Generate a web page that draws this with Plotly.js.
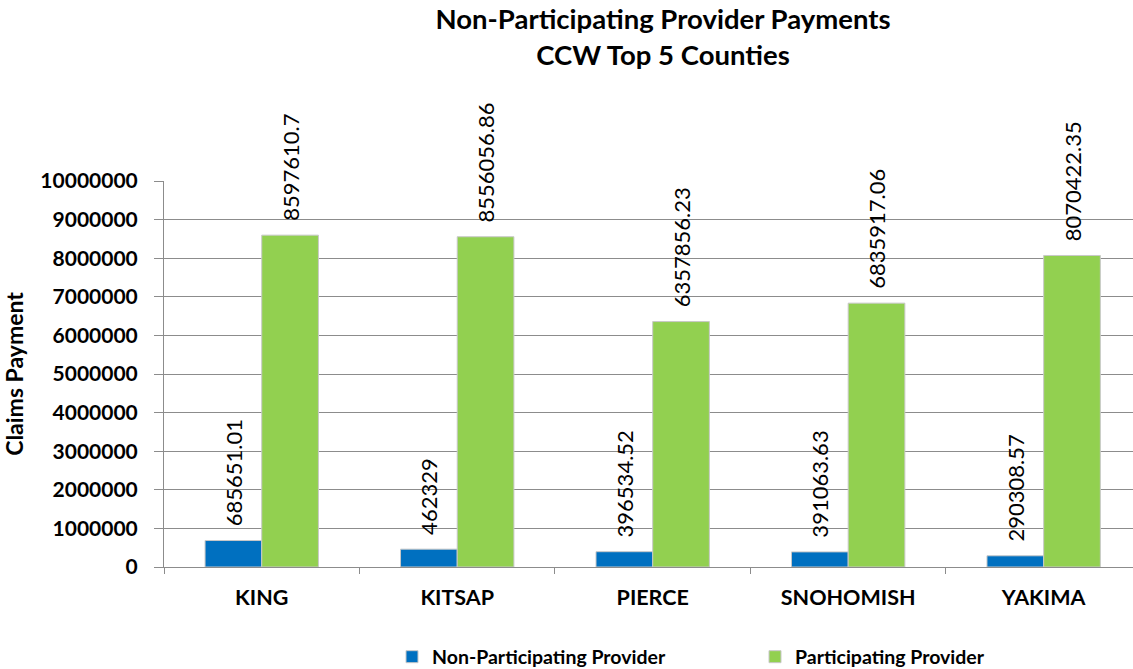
<!DOCTYPE html>
<html>
<head>
<meta charset="utf-8">
<script src="https://cdn.plot.ly/plotly-3.0.1.min.js"></script>
<style>
  html, body { margin: 0; padding: 0; background: #ffffff; }
  #chart { width: 1133px; height: 669px; }
</style>
</head>
<body>
<div id="chart"></div>
<script>
const counties = ["KING", "KITSAP", "PIERCE", "SNOHOMISH", "YAKIMA"];
const nonParticipating = [685651.01, 462329, 396534.52, 391063.63, 290308.57];
const participating = [8597610.7, 8556056.86, 6357856.23, 6835917.06, 8070422.35];
const seriesNames = ["Non-Participating Provider", "Participating Provider"];
const yTickVals = [0, 1000000, 2000000, 3000000, 4000000, 5000000, 6000000, 7000000, 8000000, 9000000, 10000000];

const FONT = "Lato, 'Open Sans', sans-serif";
const labelFont = {family: FONT, size: 22, color: "#000000"};
const PAD = "\u00a0\u00a0";

function barTrace(name, values, color) {
  return {
    type: "bar",
    name: name,
    x: counties,
    y: values,
    text: values.map(v => PAD + String(v)),
    textposition: "outside",
    textangle: -90,
    constraintext: "none",
    cliponaxis: false,
    textfont: labelFont,
    marker: {color: color, line: {color: "#c8c8c8", width: 1}},
    hoverinfo: "x+y"
  };
}

const data = [
  barTrace(seriesNames[0], nonParticipating, "#0070c0"),
  barTrace(seriesNames[1], participating, "#92d050")
];

const layout = {
  width: 1133,
  height: 669,
  paper_bgcolor: "#ffffff",
  plot_bgcolor: "#ffffff",
  margin: {l: 164, r: 0, t: 181, b: 102},
  barmode: "group",
  bargap: 0.42,
  bargroupgap: 0,
  font: {family: FONT, color: "#000000"},
  title: {
    text: "<b>Non-Participating Provider Payments<br>CCW Top 5 Counties</b>",
    font: {family: FONT, size: 27.5, color: "#000000"},
    x: 0.515,
    xref: "paper",
    xanchor: "center",
    y: 1 - 29 / 669,
    yref: "container",
    yanchor: "middle"
  },
  xaxis: {
    type: "category",
    range: [-0.5, 4.457],
    showgrid: false,
    tickson: "boundaries",
    ticks: "outside",
    ticklen: 6,
    tickcolor: "#8c8c8c",
    showline: true,
    linecolor: "#8c8c8c",
    linewidth: 1,
    tickfont: {family: FONT, size: 21.5, color: "#000000", weight: "bold"},
    ticklabelstandoff: 11,
    automargin: false,
    fixedrange: true
  },
  yaxis: {
    range: [0, 10000000],
    tickvals: yTickVals,
    tickformat: "d",
    showgrid: true,
    gridcolor: "#8c8c8c",
    gridwidth: 1,
    zeroline: false,
    showline: true,
    linecolor: "#8c8c8c",
    linewidth: 1,
    ticks: "outside",
    ticklen: 9,
    tickcolor: "#8c8c8c",
    tickfont: {family: FONT, size: 21, color: "#000000", weight: "bold"},
    ticklabelstandoff: 12,
    automargin: false,
    title: {
      text: "<b>Claims Payment</b>",
      font: {family: FONT, size: 23, color: "#000000"},
      standoff: 14
    },
    fixedrange: true
  },
  legend: {
    orientation: "h",
    xref: "container",
    yref: "container",
    x: 392 / 1133,
    xanchor: "left",
    y: 1 - 657 / 669,
    yanchor: "middle",
    entrywidth: 318,
    entrywidthmode: "pixels",
    font: {family: FONT, size: 19.5, color: "#000000", weight: "bold"},
    itemwidth: 30,
    traceorder: "normal"
  },
  showlegend: true
};

Plotly.newPlot("chart", data, layout, {displayModeBar: false, staticPlot: true});
</script>
</body>
</html>
